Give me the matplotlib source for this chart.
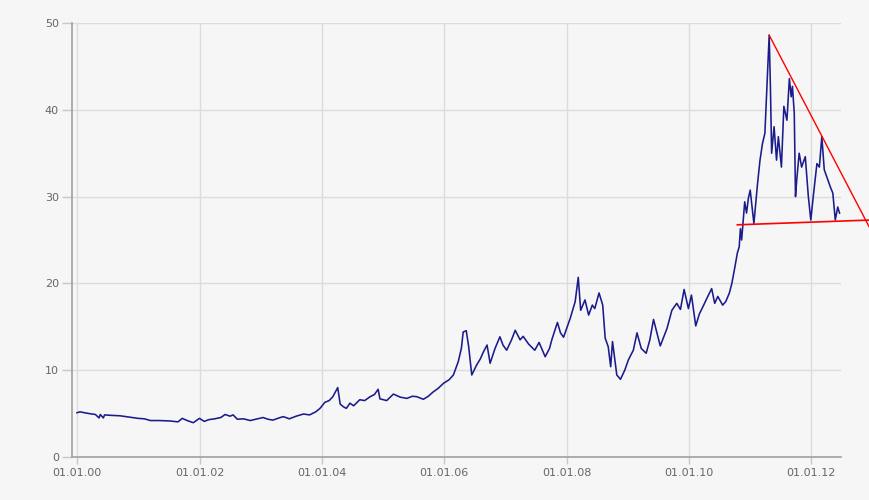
import datetime as dt

import matplotlib

matplotlib.use("Agg")
import matplotlib.dates as mdates
import matplotlib.pyplot as plt

# price history (decimal year, price)
years = [
    2000.00, 2000.05, 2000.12, 2000.20, 2000.30, 2000.36, 2000.38, 2000.43, 2000.45, 2000.55,
    2000.70, 2000.85, 2001.00, 2001.10, 2001.20, 2001.35, 2001.52, 2001.65, 2001.72, 2001.80,
    2001.90, 2002.00, 2002.08, 2002.15, 2002.25, 2002.35, 2002.42, 2002.50, 2002.55, 2002.62,
    2002.72, 2002.83, 2002.95, 2003.04, 2003.12, 2003.20, 2003.30, 2003.37, 2003.47, 2003.58,
    2003.70, 2003.80, 2003.90, 2003.97, 2004.05, 2004.12, 2004.18, 2004.26, 2004.30, 2004.35,
    2004.40, 2004.46, 2004.52, 2004.62, 2004.70, 2004.79, 2004.86, 2004.92, 2004.95, 2005.06,
    2005.17, 2005.28, 2005.39, 2005.48, 2005.55, 2005.66, 2005.74, 2005.82, 2005.90, 2005.99,
    2006.08, 2006.15, 2006.23, 2006.28, 2006.31, 2006.36, 2006.40, 2006.45, 2006.53, 2006.59,
    2006.64, 2006.70, 2006.75, 2006.83, 2006.91, 2006.96, 2007.02, 2007.10, 2007.16, 2007.24,
    2007.29, 2007.38, 2007.48, 2007.55, 2007.65, 2007.72, 2007.76, 2007.85, 2007.90, 2007.95,
    2008.06, 2008.14, 2008.19, 2008.23, 2008.30, 2008.36, 2008.42, 2008.46, 2008.53, 2008.59,
    2008.63, 2008.68, 2008.72, 2008.75, 2008.82, 2008.88, 2008.95, 2009.01, 2009.09, 2009.15,
    2009.22, 2009.30, 2009.36, 2009.42, 2009.48, 2009.53, 2009.64, 2009.72, 2009.80, 2009.86,
    2009.92, 2009.99, 2010.04, 2010.11, 2010.17, 2010.23, 2010.30, 2010.37, 2010.42, 2010.47,
    2010.55, 2010.60, 2010.66, 2010.70, 2010.75, 2010.79, 2010.82, 2010.84, 2010.86, 2010.89,
    2010.91, 2010.94, 2010.97, 2011.00, 2011.03, 2011.06, 2011.09, 2011.12, 2011.16, 2011.20,
    2011.24, 2011.28, 2011.31, 2011.33, 2011.35, 2011.39, 2011.43, 2011.46, 2011.51, 2011.55,
    2011.60, 2011.64, 2011.67, 2011.69, 2011.72, 2011.74, 2011.76, 2011.80, 2011.84, 2011.90,
    2011.95, 2011.99, 2012.03, 2012.09, 2012.13, 2012.17, 2012.21, 2012.25, 2012.31, 2012.35,
    2012.39, 2012.43, 2012.46,
]
prices = [
    5.1, 5.2, 5.1, 5.0, 4.9, 4.5, 4.9, 4.5, 4.85, 4.8,
    4.75, 4.6, 4.45, 4.4, 4.2, 4.2, 4.15, 4.05, 4.45, 4.2,
    3.95, 4.45, 4.1, 4.3, 4.4, 4.55, 4.9, 4.7, 4.85, 4.35,
    4.4, 4.2, 4.4, 4.55, 4.35, 4.25, 4.5, 4.65, 4.4, 4.7,
    4.95, 4.85, 5.2, 5.6, 6.3, 6.5, 6.95, 8.0, 6.1, 5.8,
    5.6, 6.2, 5.9, 6.6, 6.5, 6.95, 7.2, 7.8, 6.7, 6.5,
    7.25, 6.9, 6.75, 7.0, 6.95, 6.65, 7.0, 7.5, 7.9, 8.5,
    8.9, 9.45, 11.0, 12.5, 14.4, 14.55, 12.7, 9.45, 10.6, 11.3,
    12.1, 12.9, 10.8, 12.5, 13.85, 12.9, 12.3, 13.5, 14.6, 13.5,
    13.9, 13.0, 12.3, 13.2, 11.55, 12.5, 13.55, 15.5, 14.3, 13.8,
    16.0, 17.9, 20.7, 16.9, 18.1, 16.35, 17.5, 17.1, 18.9, 17.5,
    13.7, 12.7, 10.4, 13.3, 9.45, 8.95, 10.0, 11.2, 12.3, 14.3,
    12.5, 11.95, 13.5, 15.85, 14.2, 12.8, 14.8, 16.9, 17.7, 17.0,
    19.3, 17.1, 18.65, 15.1, 16.5, 17.35, 18.4, 19.4, 17.7, 18.5,
    17.5, 17.9, 18.9, 20.0, 21.9, 23.5, 24.2, 26.3, 25.0, 27.7,
    29.4, 28.1, 29.8, 30.75, 28.8, 26.9, 29.2, 31.5, 34.2, 36.1,
    37.3, 43.8, 48.6, 42.7, 35.0, 38.05, 34.2, 36.9, 33.4, 40.4,
    38.8, 43.6, 41.5, 42.7, 39.6, 30.0, 31.9, 35.0, 33.4, 34.6,
    30.0, 27.3, 30.0, 33.8, 33.4, 36.9, 33.1, 32.3, 31.1, 30.4,
    27.3, 28.8, 28.1,
]

# hand-drawn trend lines (decimal year, price)
resistance_years = [2011.31, 2012.96]
resistance_prices = [48.6, 26.3]
support_years = [2010.79, 2012.96]
support_prices = [26.75, 27.3]

y_ticks = [0, 10, 20, 30, 40, 50]
x_tick_years = [2000, 2002, 2004, 2006, 2008, 2010, 2012]


def to_date(y):
    return dt.datetime(2000, 1, 1) + dt.timedelta(days=(y - 2000) * 365.25)


bg = "#f6f6f6"
fig = plt.figure(figsize=(8.7, 5), dpi=100, facecolor=bg)
ax = fig.add_axes([0.0822, 0.086, 0.8845, 0.868])
ax.set_facecolor(bg)

ax.plot([to_date(y) for y in years], prices, color="#1b1b8c", lw=1.15, zorder=3)
ax.plot([to_date(y) for y in resistance_years], resistance_prices,
        color="red", lw=1.0, clip_on=False, zorder=4)
ax.plot([to_date(y) for y in support_years], support_prices,
        color="red", lw=1.2, clip_on=False, zorder=4)

ax.set_ylim(0, 50)
ax.set_xlim(to_date(1999.91), to_date(2012.484))
ax.set_yticks(y_ticks)
ax.set_xticks([dt.datetime(y, 1, 1) for y in x_tick_years])
ax.xaxis.set_major_formatter(mdates.DateFormatter("%d.%m.%y"))

ax.grid(True, color="#dcdcdc", lw=1)
ax.set_axisbelow(True)
for side in ["top", "right"]:
    ax.spines[side].set_visible(False)
for side in ["left", "bottom"]:
    ax.spines[side].set_color("#a0a0a0")
    ax.spines[side].set_linewidth(1.2)
ax.tick_params(axis="y", length=7, width=1, colors="#666666", labelsize=8, pad=2)
ax.tick_params(axis="x", length=5, width=1, colors="#666666", labelsize=8, pad=3)
ax.tick_params(axis="both", which="both", color="#c8c8c8")

fig.savefig("out.png", dpi=100, facecolor=bg)
